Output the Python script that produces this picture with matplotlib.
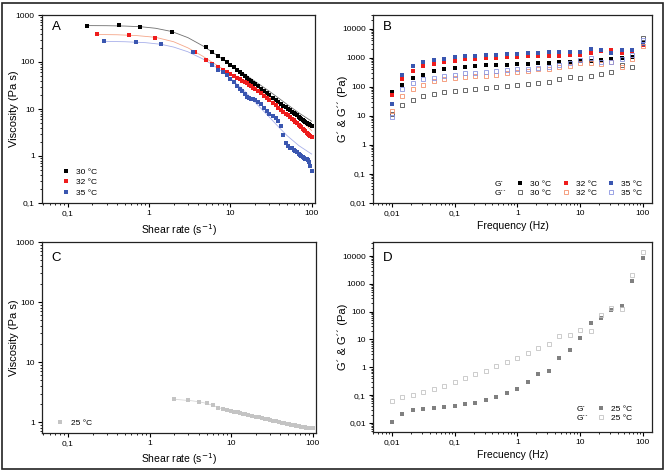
import numpy as np
import matplotlib
matplotlib.use("Agg")
import matplotlib.pyplot as plt
from matplotlib.ticker import LogLocator, FuncFormatter, NullFormatter
from matplotlib.lines import Line2D
from matplotlib.patches import Rectangle

NARROW = ['Liberation Sans Narrow', 'Liberation Sans', 'DejaVu Sans']
plt.rcParams['font.family'] = NARROW

# ---- Panel A: viscosity curves ----
shear_dense = [5, 6, 7, 8, 9, 10, 11, 12, 13, 14, 15, 16, 17, 18, 19, 20, 22, 24, 26, 28,
               30, 33, 36, 39, 42, 45, 48, 51, 54, 57, 60, 63, 66, 69, 72, 75, 78, 81, 84,
               87, 90, 93, 96, 100]

shear_30 = [0.17, 0.43, 0.78, 1.9] + shear_dense
visc_30 = [580, 600, 565, 440,
           205, 163, 137, 117, 101, 87, 77, 68, 61, 55, 50, 46, 42, 39, 36.5, 34.5,
           30.5, 27, 24, 21.5, 19.5, 17.3, 15.5, 14, 12.8, 11.7, 10.8, 10, 9.3, 8.7,
           8.2, 7.7, 7.3, 6.9, 6.5, 6.2, 5.9, 5.6, 5.35, 5.1, 4.9, 4.75, 4.6, 4.45]

shear_32 = [0.225, 0.56, 1.17, 3.7] + shear_dense
visc_32 = [388, 375, 330, 166,
           112, 90, 77, 68, 61, 55, 50, 46, 43, 40, 37, 35, 32.5, 30.5, 28.5, 27,
           24, 21.5, 19, 17, 15.5, 13.5, 12, 10.7, 9.7, 8.8, 8.0, 7.3, 6.7, 6.2,
           5.7, 5.3, 4.95, 4.6, 4.3, 4.05, 3.8, 3.55, 3.35, 3.15, 2.95, 2.8, 2.65, 2.5]

shear_35 = [0.28, 0.69, 1.39, 3.5] + shear_dense[1:]
visc_35 = [275, 272, 242, 161,
           88, 68, 62, 52, 44, 37, 31, 27, 24, 21, 18, 17, 16.5, 16, 15.5,
           14, 12.5, 10.5, 9, 7.8, 7, 6.3, 5.5, 4.3, 2.8, 1.9, 1.6, 1.5, 1.45,
           1.35, 1.25, 1.2, 1.1, 1.05, 1.0, 0.95, 0.9, 0.85, 0.85, 0.82, 0.75, 0.6, 0.48]

fit_x30 = [0.17, 0.3, 0.5, 0.8, 1.2, 1.9, 3, 4.7, 7, 10, 15, 20, 30, 50, 70, 100]
fit_y30 = [595, 592, 582, 562, 522, 445, 330, 215, 135, 88, 55, 39, 24, 12.5, 8.2, 5.5]
fit_x32 = [0.225, 0.4, 0.7, 1.2, 2, 3, 4.5, 6, 8, 10, 15, 20, 30, 50, 70, 100]
fit_y32 = [385, 380, 365, 335, 270, 200, 135, 98, 72, 56, 37, 28, 18, 10, 6.2, 3.5]
fit_x35 = [0.28, 0.5, 0.9, 1.4, 2, 3, 4.5, 6, 8, 10, 15, 20, 30, 40, 50, 70, 100]
fit_y35 = [275, 270, 258, 238, 208, 165, 118, 88, 62, 45, 24, 14, 6.8, 4.0, 2.7, 1.65, 1.1]

# ---- Panel B: oscillatory sweep ----
freq = [0.01, 0.0147, 0.0215, 0.0316, 0.0464, 0.0681, 0.1, 0.147, 0.215, 0.316, 0.464,
        0.681, 1, 1.47, 2.15, 3.16, 4.64, 6.81, 10, 14.7, 21.5, 31.6, 46.4, 68.1, 100]
g1_30 = [67, 120, 195, 266, 350, 400, 450, 490, 510, 550, 560, 580, 600, 630, 650, 670,
         700, 720, 760, 800, 870, 920, 1000, 1100, 3300]
g1_32 = [53, 194, 350, 510, 630, 730, 810, 880, 930, 1000, 1000, 1060, 1100, 1130, 1150,
         1200, 1200, 1250, 1300, 1500, 1700, 1900, 1500, 1700, 2700]
g1_35 = [26, 266, 510, 700, 830, 930, 1080, 1200, 1200, 1300, 1300, 1370, 1370, 1480,
         1480, 1560, 1560, 1560, 1600, 1950, 1850, 1500, 1900, 1900, 2900]
g2_30 = [12, 23, 36, 47, 58, 67, 75, 81, 87, 95, 100, 110, 120, 130, 138, 150, 180, 215,
         205, 245, 285, 320, 580, 500, 5000]
g2_32 = [15, 50, 85, 120, 157, 180, 195, 220, 235, 245, 265, 290, 320, 350, 400, 430, 480,
         540, 640, 670, 620, 710, 480, 950, 2500]
g2_35 = [9.2, 85, 138, 180, 205, 230, 265, 290, 300, 320, 350, 375, 400, 430, 450, 480,
         550, 670, 830, 1000, 720, 700, 900, 1300, 4000]

# ---- Panel C: viscosity at 25 C ----
shear_25 = [2, 3, 4, 5, 6, 7, 8, 9, 10, 11, 12, 13, 14, 15, 16, 18, 20, 22, 24, 26, 28, 30,
            33, 36, 39, 42, 45, 48, 51, 54, 57, 60, 63, 66, 69, 72, 75, 78, 81, 84, 87,
            90, 93, 96, 100]
visc_25 = [2.4, 2.3, 2.2, 2.05, 1.9, 1.75, 1.65, 1.6, 1.55, 1.5, 1.46, 1.42, 1.39, 1.36,
           1.33, 1.28, 1.24, 1.2, 1.17, 1.14, 1.11, 1.09, 1.06, 1.03, 1.0, 0.98, 0.96,
           0.94, 0.925, 0.91, 0.895, 0.88, 0.87, 0.86, 0.85, 0.84, 0.83, 0.82, 0.815,
           0.81, 0.805, 0.8, 0.795, 0.79, 0.785]

# ---- Panel D: oscillatory sweep at 25 C ----
g1_25 = [0.0105, 0.021, 0.028, 0.032, 0.034, 0.037, 0.041, 0.047, 0.054, 0.069, 0.088,
         0.12, 0.17, 0.30, 0.55, 0.75, 2.1, 4.1, 11.5, 40, 58, 113, 160, 1300, 8200]
g2_25 = [0.060, 0.086, 0.10, 0.13, 0.17, 0.22, 0.29, 0.40, 0.55, 0.75, 1.1, 1.5, 2.2, 3.3,
         4.8, 6.6, 13.5, 15, 22, 21, 77, 140, 120, 2100, 14000]

black = '#000000'
red = '#ee1c1c'
blue = '#3a56b0'
orange_o = '#f4906c'
blue_o = '#8a94e0'
grey_o = '#505050'


def comma_fmt(v, pos):
    if v >= 1:
        return '%d' % round(v)
    s = ('%.4f' % v).rstrip('0')
    return s.replace('.', ',')


def style_axis(ax):
    ax.set_xscale('log')
    ax.set_yscale('log')
    for a in (ax.xaxis, ax.yaxis):
        a.set_major_locator(LogLocator(base=10, numticks=20))
        a.set_minor_locator(LogLocator(base=10, subs=np.arange(2, 10), numticks=20))
        a.set_major_formatter(FuncFormatter(comma_fmt))
        a.set_minor_formatter(NullFormatter())
    ax.tick_params(which='major', direction='out', length=3.2, width=0.8, labelsize=6,
                   top=False, right=False, pad=2)
    ax.tick_params(which='minor', direction='out', length=1.6, width=0.6,
                   top=False, right=False)
    for sp in ax.spines.values():
        sp.set_linewidth(0.9)
        sp.set_color('#222222')


def px_axes(fig, left, top, right, bottom):
    W, H = 665.0, 470.0
    return fig.add_axes([left / W, 1 - bottom / H, (right - left) / W, (bottom - top) / H])


def place_labels(ax, left, top, right, bottom, xlab_y, ylab_x):
    # label positions given in figure pixels, converted to axes fractions
    ax.xaxis.set_label_coords(0.5, (bottom - xlab_y) / (bottom - top))
    ax.yaxis.set_label_coords((ylab_x - left) / (right - left), 0.5)


fig = plt.figure(figsize=(6.65, 4.70), dpi=100)
fig.patch.set_facecolor('white')
fig.patches.append(Rectangle((1.5 / 665, 1.5 / 470), 661 / 665, 466 / 470, fill=False,
                             edgecolor='#222222', linewidth=1.2,
                             transform=fig.transFigure, figure=fig))

ms_a = 3.4
ms_b = 3.0
ylab_font = dict(fontsize=8, family=['Liberation Sans', 'DejaVu Sans'])
xlab_font = dict(fontsize=7.5)
leg_font = 6

# Panel A
axA = px_axes(fig, 42, 15, 315, 203)
style_axis(axA)
axA.plot(fit_x30, fit_y30, '-', color='#707070', lw=0.6)
axA.plot(fit_x32, fit_y32, '-', color='#f5a78a', lw=0.6)
axA.plot(fit_x35, fit_y35, '-', color='#a8b0ea', lw=0.6)
axA.plot(shear_30, visc_30, 's', color=black, ms=ms_a, mew=0, label='30 °C')
axA.plot(shear_32, visc_32, 's', color=red, ms=ms_a, mew=0, label='32 °C')
axA.plot(shear_35, visc_35, 's', color=blue, ms=ms_a, mew=0, label='35 °C')
axA.set_xlim(0.048, 110)
axA.set_ylim(0.1, 1000)
axA.set_xlabel('Shear rate (s$^{-1}$)', **xlab_font)
axA.set_ylabel('Viscosity (Pa s)', **ylab_font)
place_labels(axA, 42, 15, 315, 203, 222, 19)
axA.text(0.035, 0.92, 'A', transform=axA.transAxes, fontsize=9.5)
axA.legend(loc='lower left', bbox_to_anchor=(0.05, 0.0), frameon=False, fontsize=leg_font,
           handlelength=1.0, handletextpad=0.8, labelspacing=0.35, borderpad=0.2)

# Panel B
axB = px_axes(fig, 373, 15, 652, 203)
style_axis(axB)
axB.plot(freq, g1_30, 's', color=black, ms=ms_b, mew=0)
axB.plot(freq, g1_32, 's', color=red, ms=ms_b, mew=0)
axB.plot(freq, g1_35, 's', color=blue, ms=ms_b, mew=0)
axB.plot(freq, g2_30, 's', mfc='none', mec=grey_o, ms=ms_b, mew=0.6)
axB.plot(freq, g2_32, 's', mfc='none', mec=orange_o, ms=ms_b, mew=0.6)
axB.plot(freq, g2_35, 's', mfc='none', mec=blue_o, ms=ms_b, mew=0.6)
axB.set_xlim(0.005, 140)
axB.set_ylim(0.01, 30000)
axB.set_xlabel('Frequency (Hz)', **xlab_font)
axB.set_ylabel('G´ & G´´ (Pa)', **ylab_font)
place_labels(axB, 373, 15, 652, 203, 221, 348)
axB.text(0.035, 0.92, 'B', transform=axB.transAxes, fontsize=9.5)
blank = Line2D([], [], linestyle='none')
hB = [blank, blank,
      Line2D([], [], ls='none', marker='s', color=black, ms=ms_b, mew=0),
      Line2D([], [], ls='none', marker='s', mfc='none', mec=grey_o, ms=ms_b, mew=0.6),
      Line2D([], [], ls='none', marker='s', color=red, ms=ms_b, mew=0),
      Line2D([], [], ls='none', marker='s', mfc='none', mec=orange_o, ms=ms_b, mew=0.6),
      Line2D([], [], ls='none', marker='s', color=blue, ms=ms_b, mew=0),
      Line2D([], [], ls='none', marker='s', mfc='none', mec=blue_o, ms=ms_b, mew=0.6)]
lB = ['G´', 'G´´', '30 °C', '30 °C', '32 °C', '32 °C', '35 °C', '35 °C']
axB.legend(hB, lB, ncol=4, loc='lower right', bbox_to_anchor=(0.985, 0.0), frameon=False,
           fontsize=leg_font, handlelength=1.0, handletextpad=0.7, columnspacing=1.2,
           labelspacing=0.2, borderpad=0.2)

# Panel C
axC = px_axes(fig, 42, 242, 316, 433)
style_axis(axC)
axC.plot(shear_25, visc_25, '-', color='#d0d0d0', lw=0.5)
axC.plot(shear_25, visc_25, 's', color='#c4c4c4', ms=ms_a, mew=0, label='25 °C')
axC.set_xlim(0.048, 110)
axC.set_ylim(0.66, 1000)
axC.set_xlabel('Shear rate (s$^{-1}$)', **xlab_font)
axC.set_ylabel('Viscosity (Pa s)', **ylab_font)
place_labels(axC, 42, 242, 316, 433, 451, 19)
axC.text(0.035, 0.9, 'C', transform=axC.transAxes, fontsize=9.5)
axC.legend(loc='lower left', bbox_to_anchor=(0.03, 0.0), frameon=False, fontsize=leg_font,
           handlelength=1.0, handletextpad=0.8, borderpad=0.2)

# Panel D
axD = px_axes(fig, 373, 242, 652, 432)
style_axis(axD)
axD.plot(freq, g1_25, 's', color='#808080', ms=ms_b, mew=0)
axD.plot(freq, g2_25, 's', mfc='none', mec='#c4c4c4', ms=ms_b, mew=0.6)
axD.set_xlim(0.005, 140)
axD.set_ylim(0.0047, 32000)
axD.set_xlabel('Frecuency (Hz)', **xlab_font)
axD.set_ylabel('G´ & G´´ (Pa)', **ylab_font)
place_labels(axD, 373, 242, 652, 432, 450, 348)
axD.text(0.035, 0.9, 'D', transform=axD.transAxes, fontsize=9.5)
hD = [blank, blank,
      Line2D([], [], ls='none', marker='s', color='#808080', ms=ms_b, mew=0),
      Line2D([], [], ls='none', marker='s', mfc='none', mec='#c4c4c4', ms=ms_b, mew=0.6)]
lD = ['G´', 'G´´', '25 °C', '25 °C']
axD.legend(hD, lD, ncol=2, loc='lower right', bbox_to_anchor=(0.95, 0.02), frameon=False,
           fontsize=leg_font, handlelength=1.0, handletextpad=0.7, columnspacing=1.0,
           labelspacing=0.2, borderpad=0.2)

fig.savefig('out.png', dpi=100)
